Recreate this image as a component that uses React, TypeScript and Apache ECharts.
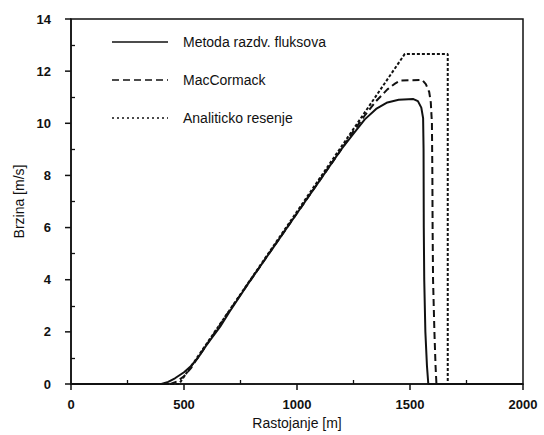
import React, { useEffect, useRef } from "react";
import * as echarts from "echarts";

// Distance [m] and speed [m/s]
const fluxX = [0, 400, 430, 460, 500, 530, 560, 600, 660, 700, 780, 800, 900, 1000, 1100, 1200, 1250, 1300, 1350, 1400, 1450, 1515, 1535, 1550, 1558, 1560, 1561, 1563, 1568, 1575, 1581, 2000];
const fluxY = [0, 0, 0.08, 0.22, 0.45, 0.68, 0.98, 1.5, 2.2, 2.75, 3.8, 4.05, 5.3, 6.55, 7.8, 9.05, 9.6, 10.15, 10.55, 10.8, 10.9, 10.93, 10.85, 10.6, 10.2, 9.0, 6.0, 4.0, 2.0, 0.7, 0, 0];

const macX = [0, 440, 470, 500, 530, 560, 600, 700, 800, 900, 1000, 1100, 1200, 1250, 1300, 1350, 1400, 1430, 1457, 1554, 1570, 1585, 1592, 1597, 1599, 1600, 1602, 1608, 1613, 1617, 2000];
const macY = [0, 0, 0.1, 0.3, 0.6, 1.0, 1.5, 2.8, 4.05, 5.3, 6.55, 7.8, 9.05, 9.7, 10.3, 10.85, 11.3, 11.5, 11.64, 11.66, 11.5, 11.2, 10.8, 10.0, 8.0, 6.0, 4.0, 2.0, 0.7, 0, 0];

const exactX = [0, 478, 1477, 1667, 1667, 2000];
const exactY = [0, 0, 12.66, 12.66, 0, 0];

const xMajor = [0, 500, 1000, 1500, 2000];
const yMajor = [0, 2, 4, 6, 8, 10, 12, 14];
const xMinor = [250, 750, 1250, 1750];
const yMinor = [1, 3, 5, 7, 9, 11, 13];

const legendNames = ["Metoda razdv. fluksova", "MacCormack", "Analiticko resenje"];

const FONT = "Liberation Sans, Arial, sans-serif";
const INK = "#111";

function pairs(xs: number[], ys: number[]) {
  return xs.map((x, i) => [x, ys[i]]);
}

function minorAxis(max: number, values: number[]) {
  return {
    type: "value",
    min: 0,
    max,
    axisLine: { show: false, onZero: false },
    axisTick: { show: true, inside: true, length: 4, lineStyle: { color: INK, width: 1.3 }, customValues: values },
    axisLabel: { show: false },
    splitLine: { show: false },
  };
}

// outward major ticks, placed through the axes' own scales
function tickSeries(data: number[][], vertical: boolean) {
  return {
    type: "custom",
    silent: true,
    clip: false,
    z: 5,
    encode: { x: 0, y: 1 },
    data,
    renderItem: (_params: any, api: any) => {
      const p = api.coord([api.value(0), api.value(1)]);
      const shape = vertical
        ? { x1: p[0], y1: p[1], x2: p[0], y2: p[1] + 6 }
        : { x1: p[0] - 6, y1: p[1], x2: p[0], y2: p[1] };
      return { type: "line", shape, style: { stroke: INK, lineWidth: 1.5 } };
    },
  };
}

export default function App() {
  const ref = useRef<HTMLDivElement>(null);
  useEffect(() => {
    if (!ref.current) return;
    const chart = echarts.init(ref.current, null, { renderer: "svg" });
    const dashes = [null, [7, 4], [2, 3]];
    const legendRowsY = [42, 80, 118];
    const graphic: any[] = [];
    legendNames.forEach((n, i) => {
      graphic.push({
        type: "line",
        shape: { x1: 112, y1: legendRowsY[i], x2: 168, y2: legendRowsY[i] },
        style: { stroke: INK, lineWidth: 1.6, lineDash: dashes[i] || undefined },
      });
      graphic.push({
        type: "text",
        x: 183,
        y: legendRowsY[i],
        style: { text: n, fill: INK, font: `14px ${FONT}`, textVerticalAlign: "middle" },
      });
    });
    const fmt = (v: number) => String(v);
    chart.setOption({
      animation: false,
      backgroundColor: "#fff",
      grid: { left: 71, top: 19, right: 21, bottom: 51, show: true, borderColor: INK, borderWidth: 1.5 },
      graphic,
      xAxis: [
        {
          type: "value",
          min: 0,
          max: 2000,
          interval: 500,
          name: "Rastojanje [m]",
          nameLocation: "middle",
          nameGap: 30,
          nameTextStyle: { fontFamily: FONT, fontSize: 14, color: INK },
          axisLine: { show: true, onZero: false, lineStyle: { color: INK, width: 1.5 } },
          axisTick: { show: false },
          axisLabel: { show: true, margin: 14, fontFamily: FONT, fontSize: 13, fontWeight: "bold", color: INK, formatter: fmt },
          splitLine: { show: false },
        },
        { ...minorAxis(2000, xMinor), position: "bottom" },
      ],
      yAxis: [
        {
          type: "value",
          min: 0,
          max: 14,
          interval: 2,
          name: "Brzina [m/s]",
          nameLocation: "middle",
          nameGap: 45,
          nameTextStyle: { fontFamily: FONT, fontSize: 14, color: INK },
          axisLine: { show: true, onZero: false, lineStyle: { color: INK, width: 1.5 } },
          axisTick: { show: false },
          axisLabel: { show: true, margin: 20, fontFamily: FONT, fontSize: 13, fontWeight: "bold", color: INK, formatter: fmt },
          splitLine: { show: false },
        },
        { ...minorAxis(14, yMinor), position: "left" },
      ],
      series: [
        {
          name: legendNames[0],
          type: "line",
          data: pairs(fluxX, fluxY),
          showSymbol: false,
          symbol: "none",
          lineStyle: { color: INK, width: 2 },
          z: 3,
        },
        {
          name: legendNames[1],
          type: "line",
          data: pairs(macX, macY),
          showSymbol: false,
          symbol: "none",
          lineStyle: { color: INK, width: 2, type: [7, 4] },
          z: 2,
        },
        {
          name: legendNames[2],
          type: "line",
          data: pairs(exactX, exactY),
          showSymbol: false,
          symbol: "none",
          lineStyle: { color: INK, width: 2, type: [3, 2] },
          z: 1,
        },
        tickSeries(xMajor.map((v) => [v, 0]), true),
        tickSeries(yMajor.map((v) => [0, v]), false),
      ],
    });
    return () => chart.dispose();
  }, []);
  return <div ref={ref} style={{ width: 544, height: 435, position: "absolute", left: 0, top: 0 }} />;
}
